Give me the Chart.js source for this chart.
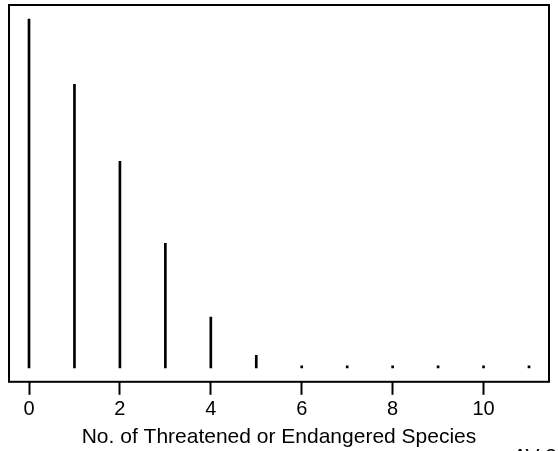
<!DOCTYPE html>
<html>
<head>
<meta charset="utf-8">
<script src="https://cdn.jsdelivr.net/npm/chart.js@4"></script>
<style>
  html, body { margin: 0; padding: 0; background: #fff; }
  #wrap { width: 558px; height: 451px; position: relative; }
</style>
</head>
<body>
<div id="wrap"><canvas id="chart"></canvas></div>
<script>
// number of threatened / endangered species per site (relative frequency)
var species = [0, 1, 2, 3, 4, 5, 6, 7, 8, 9, 10, 11];
var freq = [0.336, 0.273, 0.199, 0.120, 0.049, 0.012, 0.002, 0.002, 0.002, 0.002, 0.002, 0.002];
var xTicks = [0, 2, 4, 6, 8, 10];
var xTitle = 'No. of Threatened or Endangered Species';
var cornerNote = 'AV 3';

var yMax = Math.max.apply(null, freq);
var fontFamily = '"Liberation Sans", Arial, Helvetica, sans-serif';

var framePlugin = {
  id: 'frame',
  afterDraw: function (chart) {
    var a = chart.chartArea, ctx = chart.ctx;
    ctx.save();
    ctx.strokeStyle = '#000';
    ctx.lineWidth = 2;
    ctx.strokeRect(a.left, a.top, a.right - a.left, a.bottom - a.top);
    ctx.fillStyle = '#000';
    ctx.font = '21px ' + fontFamily;
    ctx.textBaseline = 'alphabetic';
    ctx.fillText(cornerNote, 513, 463);
    ctx.restore();
  }
};

new Chart(document.getElementById('chart').getContext('2d'), {
  type: 'bar',
  data: {
    datasets: [{
      data: species.map(function (s, i) { return { x: s, y: freq[i] }; }),
      backgroundColor: '#000',
      borderWidth: 0,
      barThickness: 2
    }]
  },
  options: {
    responsive: true,
    maintainAspectRatio: false,
    animation: false,
    layout: { padding: { left: 9, right: 9, top: 5, bottom: 0 } },
    plugins: { legend: { display: false }, tooltip: { enabled: false } },
    scales: {
      x: {
        type: 'linear',
        min: -0.44,
        max: 11.44,
        offset: false,
        afterBuildTicks: function (axis) { axis.ticks = xTicks.map(function (v) { return { value: v }; }); },
        grid: { display: true, offset: false, drawOnChartArea: false, drawTicks: true, tickLength: 13, tickWidth: 2, tickColor: '#000' },
        border: { display: false },
        ticks: { color: '#000', font: { family: fontFamily, size: 20 }, padding: 3, autoSkip: false, maxRotation: 0 },
        title: { display: true, text: xTitle, color: '#000', font: { family: fontFamily, size: 21 }, padding: { top: 0, bottom: 1 } }
      },
      y: {
        display: false,
        min: -0.04 * yMax,
        max: 1.04 * yMax
      }
    }
  },
  plugins: [framePlugin]
});
</script>
</body>
</html>
